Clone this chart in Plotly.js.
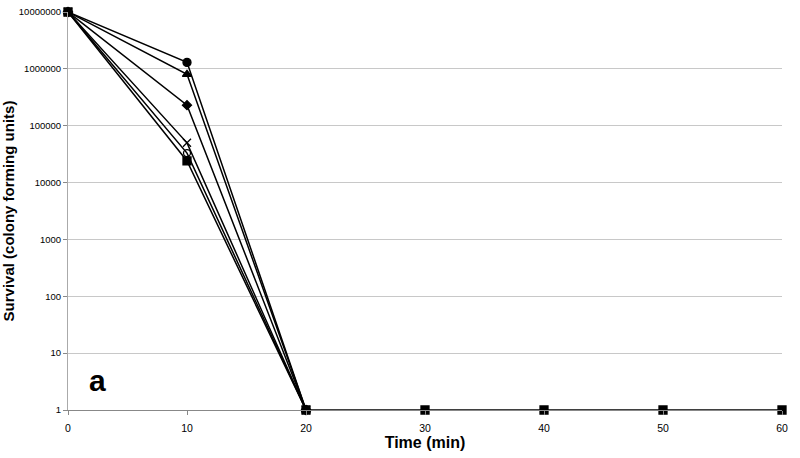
<!DOCTYPE html>
<html>
<head>
<meta charset="utf-8">
<script src="https://cdn.plot.ly/plotly-3.0.1.min.js"></script>
<style>
  html, body { margin: 0; padding: 0; background: #fff; }
  #chart { width: 800px; height: 458px; }
</style>
</head>
<body>
<div id="chart"></div>
<script>
// time points (min)
const times = [0, 10, 20, 30, 40, 50, 60];

// survival curves, colony forming units
const filledCircle = [10000000, 1300000, 1];
const triangle     = [10000000, 800000, 1];
const diamond      = [10000000, 230000, 1];
const cross        = [10000000, 50000, 1];
const openCircle   = [10000000, 33000, 1];
const square       = [10000000, 24000, 1, 1, 1, 1, 1];

const yTickVals = [1, 10, 100, 1000, 10000, 100000, 1000000, 10000000];
const yTickText = ['1', '10', '100', '1000', '10000', '100000', '1000000', '10000000'];

function curve(vals, symbol, size) {
  return {
    x: times.slice(0, vals.length),
    y: vals,
    type: 'scatter',
    mode: 'lines+markers',
    line: { color: '#000', width: 1.5 },
    marker: { symbol: symbol, size: size, color: '#000', line: { color: '#000', width: 1.3 } },
    cliponaxis: false,
    showlegend: false
  };
}

const traces = [
  curve(filledCircle, 'circle', 8),
  curve(triangle, 'triangle-up', 8),
  curve(diamond, 'diamond', 7),
  curve(cross, 'x-thin-open', 8),
  curve(openCircle, 'circle-open', 7),
  curve(square, 'square', 8)
];

const layout = {
  width: 800,
  height: 458,
  paper_bgcolor: '#fff',
  plot_bgcolor: '#fff',
  margin: { l: 68, r: 18, t: 12, b: 48 },
  font: { family: 'Liberation Sans, Arial, sans-serif', color: '#000', size: 10 },
  xaxis: {
    range: [0, 60],
    tickvals: times,
    ticks: 'outside',
    ticklen: 4,
    tickcolor: '#888',
    ticklabelstandoff: 4,
    showgrid: false,
    zeroline: false,
    showline: true,
    linecolor: '#888',
    linewidth: 1,
    tickfont: { size: 10.5 },
    title: { text: 'Time (min)', font: { size: 16, weight: 'bold' }, standoff: 2 }
  },
  yaxis: {
    type: 'log',
    range: [0, 7],
    tickvals: yTickVals,
    ticktext: yTickText,
    ticks: 'outside',
    ticklen: 4,
    tickcolor: '#888',
    showgrid: true,
    gridcolor: '#c8c8c8',
    gridwidth: 1,
    zeroline: false,
    showline: true,
    linecolor: '#aaa',
    linewidth: 1,
    tickfont: { size: 9.5 },
    title: { text: 'Survival (colony forming units)', font: { size: 15, weight: 'bold' }, standoff: 8 }
  },
  annotations: [{
    text: '<b>a</b>',
    x: 2.5, y: 0.52, xref: 'x', yref: 'y',
    showarrow: false,
    font: { size: 30, color: '#000' }
  }]
};

Plotly.newPlot('chart', traces, layout, { displayModeBar: false, staticPlot: true });
</script>
</body>
</html>
